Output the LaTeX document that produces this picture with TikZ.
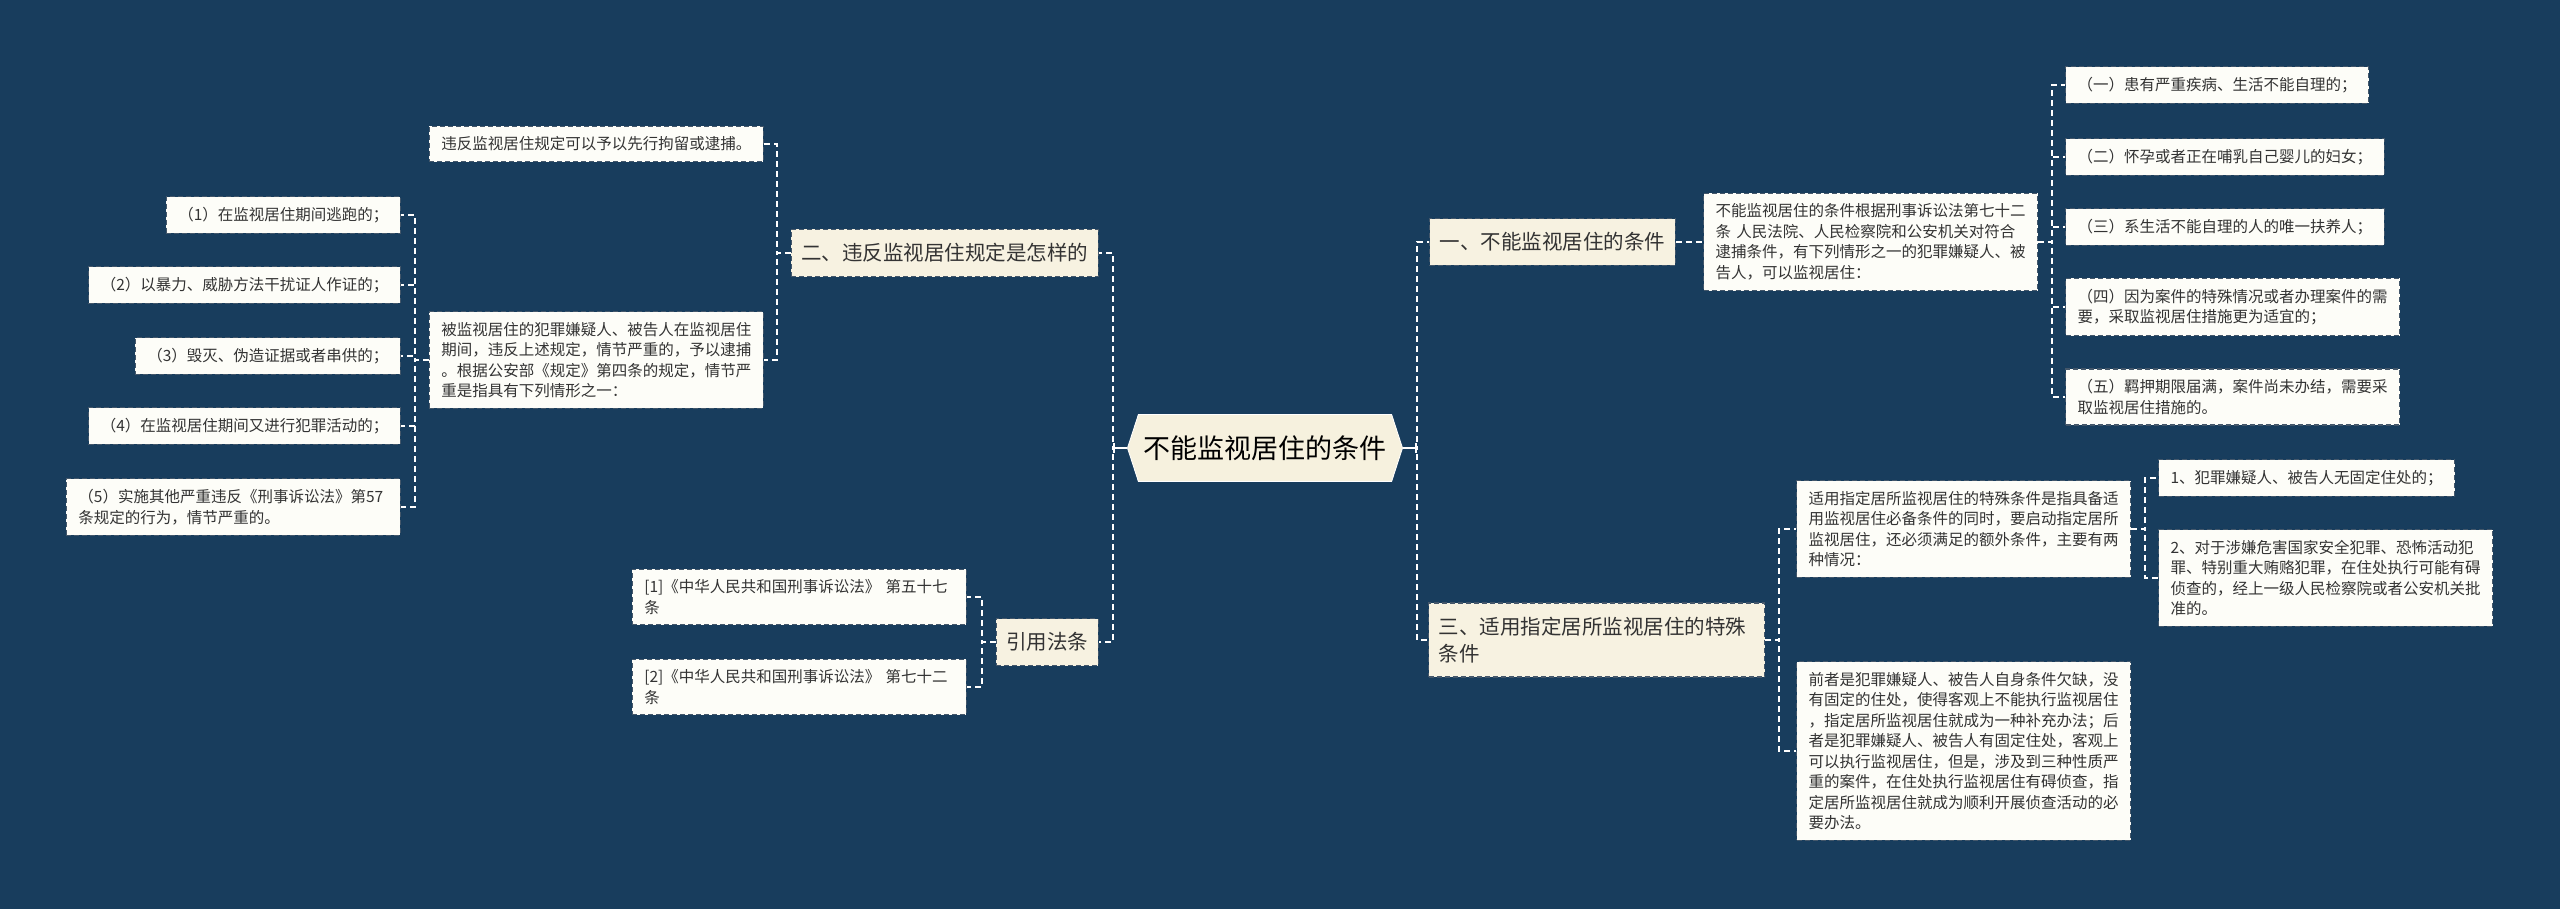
\documentclass[tikz,border=0pt]{standalone}
\usepackage{fontspec}
\setmainfont{Noto Sans CJK SC}
\usetikzlibrary{shapes.symbols,arrows.meta}
\definecolor{bgblue}{HTML}{183D5D}
\definecolor{rootfill}{HTML}{F6F1DE}
\definecolor{topicfill}{HTML}{F7F2E1}
\definecolor{leaffill}{HTML}{FDFDF8}
\definecolor{edgegray}{HTML}{44576A}
\definecolor{inkgray}{HTML}{333333}
\begin{document}
\begin{tikzpicture}[x=1pt, y=-1pt,
    rootnode/.style={signal, signal to=west and east, signal pointer angle=144, fill=rootfill, draw=white, line width=0.8pt, minimum width=275pt, minimum height=67pt, inner sep=0pt, text=black, font=\fontsize{27}{32}\selectfont},
    topic/.style={rectangle, fill=topicfill, draw=edgegray, line width=1.2pt, dash pattern=on 5pt off 3pt, inner xsep=10pt, inner ysep=14pt, align=left, text=inkgray, font=\fontsize{20.5}{27}\selectfont},
    leaf/.style={rectangle, fill=leaffill, draw=edgegray, line width=1.2pt, dash pattern=on 5pt off 3pt, inner xsep=12pt, inner ysep=10.5pt, align=left, text=inkgray, font=\fontsize{15.5}{20.5}\selectfont},
    wrap/.style={text width=310pt},
    link/.style={draw=white, line width=2pt, dash pattern=on 6pt off 4pt},
    stub/.style={draw=white, line width=2pt, -{Bar[width=10pt,line width=2pt]}}]
    \path[fill=bgblue, use as bounding box] (0,0) rectangle (2560,909);

    \node[rootnode] (root) at (1265,448) {不能监视居住的条件};

    \node[topic, anchor=east] (t2) at (1099,253) {二、违反监视居住规定是怎样的};
    \node[topic, anchor=east] (t4) at (1099,642) {引用法条};
    \node[topic, anchor=west] (t1) at (1429,242) {一、不能监视居住的条件};
    \node[topic, anchor=west, text width=316pt] (t3) at (1428,640) {三、适用指定居所监视居住的特殊\\条件};

    \node[leaf, anchor=east] (b1) at (764,144) {违反监视居住规定可以予以先行拘留或逮捕。};
    \node[leaf, wrap, anchor=east] (b2) at (764,360) {被监视居住的犯罪嫌疑人、被告人在监视居住\\期间，违反上述规定，情节严重的，予以逮捕\\。根据公安部《规定》第四条的规定，情节严\\重是指具有下列情形之一：};
    \node[leaf, anchor=east] (c1) at (401,215) {（1）在监视居住期间逃跑的；};
    \node[leaf, anchor=east] (c2) at (401,285) {（2）以暴力、威胁方法干扰证人作证的；};
    \node[leaf, anchor=east] (c3) at (401,356) {（3）毁灭、伪造证据或者串供的；};
    \node[leaf, anchor=east] (c4) at (401,426) {（4）在监视居住期间又进行犯罪活动的；};
    \node[leaf, wrap, anchor=east] (c5) at (401,507) {（5）实施其他严重违反《刑事诉讼法》第57\\条规定的行为，情节严重的。};

    \node[leaf, wrap, anchor=east] (r1) at (967,597) {[1]《中华人民共和国刑事诉讼法》 第五十七\\条};
    \node[leaf, wrap, anchor=east] (r2) at (967,687) {[2]《中华人民共和国刑事诉讼法》 第七十二\\条};

    \node[leaf, wrap, anchor=west] (a0) at (1703,242) {不能监视居住的条件根据刑事诉讼法第七十二\\条 人民法院、人民检察院和公安机关对符合\\逮捕条件，有下列情形之一的犯罪嫌疑人、被\\告人，可以监视居住：};
    \node[leaf, anchor=west] (a1) at (2065,85) {（一）患有严重疾病、生活不能自理的；};
    \node[leaf, anchor=west] (a2) at (2065,157) {（二）怀孕或者正在哺乳自己婴儿的妇女；};
    \node[leaf, anchor=west] (a3) at (2065,227) {（三）系生活不能自理的人的唯一扶养人；};
    \node[leaf, wrap, anchor=west] (a4) at (2065,307) {（四）因为案件的特殊情况或者办理案件的需\\要，采取监视居住措施更为适宜的；};
    \node[leaf, wrap, anchor=west] (a5) at (2065,397) {（五）羁押期限届满，案件尚未办结，需要采\\取监视居住措施的。};

    \node[leaf, wrap, anchor=west] (s1) at (1796,529) {适用指定居所监视居住的特殊条件是指具备适\\用监视居住必备条件的同时，要启动指定居所\\监视居住，还必须满足的额外条件，主要有两\\种情况：};
    \node[leaf, anchor=west] (s11) at (2158,478) {1、犯罪嫌疑人、被告人无固定住处的；};
    \node[leaf, wrap, anchor=west] (s12) at (2158,578) {2、对于涉嫌危害国家安全犯罪、恐怖活动犯\\罪、特别重大贿赂犯罪，在住处执行可能有碍\\侦查的，经上一级人民检察院或者公安机关批\\准的。};
    \node[leaf, wrap, anchor=west] (s2) at (1796,751) {前者是犯罪嫌疑人、被告人自身条件欠缺，没\\有固定的住处，使得客观上不能执行监视居住\\，指定居所监视居住就成为一种补充办法；后\\者是犯罪嫌疑人、被告人有固定住处，客观上\\可以执行监视居住，但是，涉及到三种性质严\\重的案件，在住处执行监视居住有碍侦查，指\\定居所监视居住就成为顺利开展侦查活动的必\\要办法。};

    \draw[link] (root.west) -- ++(-14,0) |- (t2.east);
    \draw[link] (root.west) -- ++(-14,0) |- (t4.east);
    \draw[link] (root.east) -- ++(14,0) |- (t1.west);
    \draw[link] (root.east) -- ++(14,0) |- (t3.west);
    \draw[stub] (root.west) -- ++(-14,0);
    \draw[stub] (root.east) -- ++(14,0);

    \draw[link] (t2.west) -- ++(-14,0) |- (b1.east);
    \draw[link] (t2.west) -- ++(-14,0) |- (b2.east);
    \draw[link] (b2.west) -- ++(-14,0) |- (c1.east);
    \draw[link] (b2.west) -- ++(-14,0) |- (c2.east);
    \draw[link] (b2.west) -- ++(-14,0) |- (c3.east);
    \draw[link] (b2.west) -- ++(-14,0) |- (c4.east);
    \draw[link] (b2.west) -- ++(-14,0) |- (c5.east);
    \draw[link] (t4.west) -- ++(-14,0) |- (r1.east);
    \draw[link] (t4.west) -- ++(-14,0) |- (r2.east);

    \draw[link] (t1.east) -- (a0.west);
    \draw[link] (a0.east) -- ++(14,0) |- (a1.west);
    \draw[link] (a0.east) -- ++(14,0) |- (a2.west);
    \draw[link] (a0.east) -- ++(14,0) |- (a3.west);
    \draw[link] (a0.east) -- ++(14,0) |- (a4.west);
    \draw[link] (a0.east) -- ++(14,0) |- (a5.west);
    \draw[link] (t3.east) -- ++(14,0) |- (s1.west);
    \draw[link] (t3.east) -- ++(14,0) |- (s2.west);
    \draw[link] (s1.east) -- ++(14,0) |- (s11.west);
    \draw[link] (s1.east) -- ++(14,0) |- (s12.west);
\end{tikzpicture}
\end{document}
